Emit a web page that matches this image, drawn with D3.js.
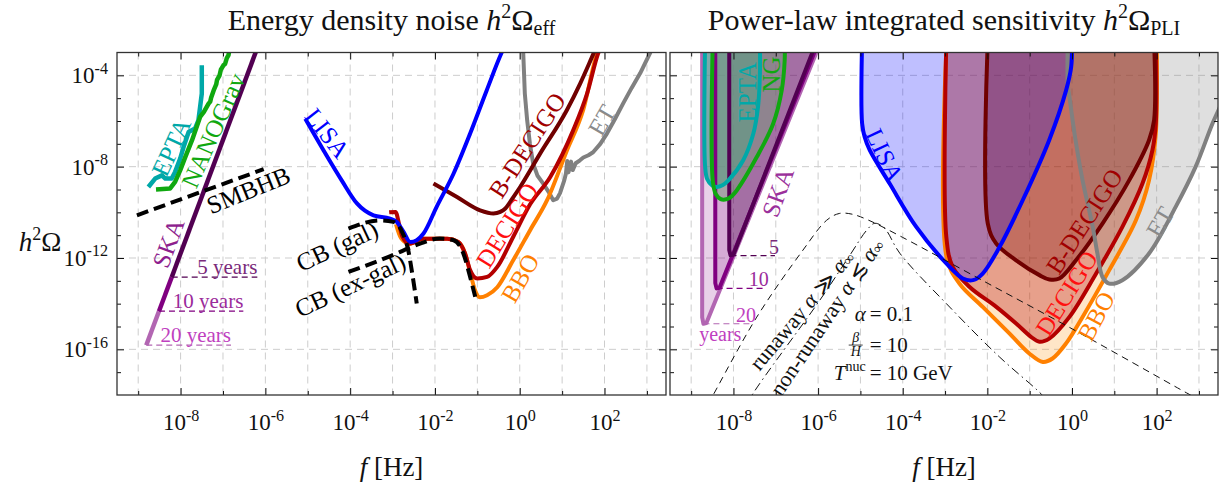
<!DOCTYPE html>
<html>
<head>
<meta charset="utf-8">
<script src="https://cdn.jsdelivr.net/npm/d3@7/dist/d3.min.js"></script>
<style>
  body { margin: 0; background: #fff; }
  svg { font-family: "Liberation Serif", "DejaVu Serif", serif; }
  .grid line { stroke: #cdcdcd; stroke-width: 1; stroke-dasharray: 7,5; }
  .curve { fill: none; stroke-linejoin: round; }
</style>
</head>
<body>
<svg id="chart" width="1219" height="486"></svg>
<script>
// every point is [log10(f / Hz), log10(h^2 Omega)]

// ---- left panel: energy density noise curves
var skaNoise5  = [[-8.21, -12.84], [-6.15, -2.6]];
var skaNoise10 = [[-8.51, -14.33], [-8.21, -12.84]];
var skaNoise20 = [[-8.81, -15.82], [-8.51, -14.33]];
var eptaNoise = [[-8.76, -8.89], [-8.6, -8.52], [-8.44, -8.38], [-8.36, -8.52], [-8.21, -8.52], [-8.13, -8.23],
  [-8.01, -7.65], [-7.93, -7.14], [-7.81, -6.48], [-7.66, -6.33], [-7.58, -5.97], [-7.54, -5.39], [-7.5, -4.8], [-7.5, -3.56]];
var nanogravNoise = [[-8.58, -9.0], [-8.25, -8.96], [-8.13, -8.67], [-8.01, -8.16], [-7.89, -7.58], [-7.73, -6.84],
  [-7.54, -5.82], [-7.45, -5.6], [-7.34, -5.24], [-7.3, -5.15], [-7.28, -4.98], [-7.22, -4.66], [-7.16, -4.4], [-7.14, -4.2],
  [-7.08, -4.0], [-7.05, -3.75], [-6.99, -3.56], [-6.95, -3.5], [-6.91, -3.25], [-6.87, -3.12], [-6.85, -2.9]];
var smbhb = [[-9.03, -10.13], [-6.04, -8.11]];
var lisaNoise = [[-5.06, -5.9], [-4.63, -7.28], [-4.2, -8.6], [-3.84, -9.61], [-3.45, -10.13], [-3.06, -10.27],
  [-2.9, -10.42], [-2.74, -10.86], [-2.58, -11.3], [-2.43, -11.22], [-2.27, -10.93], [-1.96, -9.76], [-1.56, -8.3],
  [-1.17, -6.55], [-0.78, -4.66], [-0.42, -2.98], [-0.35, -2.7]];
var decigoNoise = [[-3.08, -10.0], [-2.93, -9.98], [-2.84, -10.56], [-2.77, -11.05], [-2.6, -11.38], [-2.28, -11.16],
  [-1.71, -11.16], [-1.45, -11.3], [-1.29, -11.8], [-1.17, -12.53], [-1.0, -12.9], [-0.77, -12.83], [-0.53, -12.39],
  [-0.155, -11.08], [0.245, -9.65], [0.72, -8.45], [1.26, -6.41], [1.59, -4.79], [1.85, -3.04], [1.9, -2.8]];
var bboNoise = [[-2.92, -10.52], [-2.8, -11.13], [-2.6, -11.38], [-2.28, -11.16], [-1.71, -11.16], [-1.45, -11.3],
  [-1.29, -11.8], [-1.17, -12.62], [-1.055, -13.41], [-0.94, -13.72], [-0.77, -13.63], [-0.53, -13.28], [-0.155, -12.1],
  [0.245, -10.78], [0.645, -9.47], [1.115, -7.28], [1.495, -5.53], [1.825, -3.04], [1.88, -2.8]];
var bdecigoNoise = [[-2.035, -8.74], [-1.48, -9.33], [-0.935, -9.91], [-0.62, -10.05], [-0.46, -9.98], [-0.34, -9.83],
  [-0.15, -9.33], [0.01, -8.89], [0.48, -7.43], [1.11, -5.53], [1.425, -4.36], [1.74, -3.05], [1.8, -2.8]];
var etNoise = [[0.08, -2.9], [0.12, -4.8], [0.175, -5.97], [0.24, -7.0], [0.315, -7.85], [0.42, -8.4], [0.55, -8.73],
  [0.68, -9.1], [0.79, -9.47], [0.88, -9.4], [0.95, -9.16], [1.05, -8.6], [1.09, -8.3], [1.12, -7.75], [1.15, -8.25],
  [1.21, -7.78], [1.25, -8.15], [1.32, -7.85], [1.42, -7.72], [1.5, -7.6], [1.62, -7.5], [1.73, -7.37], [1.9, -7.0],
  [2.06, -6.54], [2.25, -5.9], [2.44, -5.23], [2.64, -4.55], [2.84, -3.91], [3.08, -3.0], [3.15, -2.8]];
var cbGal = [[-4.04, -10.71], [-3.29, -10.35], [-2.98, -10.42], [-2.74, -11.0], [-2.63, -11.66], [-2.53, -12.75], [-2.43, -13.99]];
var cbExGal = [[-4.04, -12.61], [-2.9, -11.8], [-2.63, -11.58], [-2.35, -11.37], [-1.89, -11.15], [-1.56, -11.22],
  [-1.33, -11.8], [-1.17, -12.83], [-1.05, -13.7]];

// ---- right panel: power-law integrated sensitivity regions
var skaPli20 = [[-8.74, -2.5], [-8.74, -14.6], [-8.71, -14.88], [-8.64, -14.85], [-5.93, -2.5]];
var skaPli10 = [[-8.43, -2.5], [-8.43, -13.1], [-8.4, -13.33], [-8.33, -13.3], [-5.98, -2.5]];
var skaPli5  = [[-8.1, -2.5], [-8.1, -11.65], [-8.07, -11.88], [-8.0, -11.85], [-6.03, -2.5]];
var eptaPli = [[-8.67, -2.5], [-8.67, -8.0], [-8.62, -8.55], [-8.5, -8.83], [-8.4, -8.89], [-8.25, -8.8], [-8.12, -8.6],
  [-7.77, -7.72], [-7.53, -6.55], [-7.42, -5.39], [-7.375, -3.93], [-7.375, -2.5]];
var ngPli = [[-8.49, -2.5], [-8.49, -8.6], [-8.42, -9.2], [-8.3, -9.42], [-8.2, -9.44], [-8.08, -9.35], [-7.92, -9.03],
  [-7.45, -7.58], [-7.06, -6.11], [-6.86, -4.66], [-6.79, -3.34], [-6.79, -2.5]];
var lisaPli = [[-4.96, -2.5], [-4.96, -6.11], [-4.9, -6.7], [-4.78, -7.28], [-4.31, -8.74], [-3.68, -10.64],
  [-2.97, -12.24], [-2.58, -12.9], [-2.34, -12.97], [-2.11, -12.68], [-1.71, -11.51], [-1.165, -9.47], [-0.54, -6.84],
  [-0.14, -4.66], [-0.02, -3.64], [0.0, -2.5]];
var bboPli = [[-2.96, -2.5], [-2.96, -12.0], [-2.66, -13.12], [-2.11, -14.14], [-1.48, -15.3], [-1.01, -16.18],
  [-0.69, -16.55], [-0.46, -16.4], [-0.14, -15.74], [0.25, -14.58], [0.88, -12.53], [1.51, -10.35], [1.82, -8.6],
  [1.98, -6.54], [2.0, -2.5]];
var decigoPli = [[-2.97, -2.5], [-2.97, -11.08], [-2.82, -12.39], [-2.42, -13.27], [-1.79, -14.14], [-1.32, -14.87],
  [-0.97, -15.45], [-0.77, -15.67], [-0.53, -15.52], [-0.06, -14.58], [0.57, -12.68], [1.19, -10.64], [1.665, -8.74],
  [1.9, -7.28], [1.98, -6.11], [1.98, -2.5]];
var bdecigoPli = [[-1.99, -2.5], [-1.99, -10.49], [-1.79, -11.37], [-1.32, -12.1], [-0.77, -12.75], [-0.535, -12.94],
  [-0.3, -12.9], [0.094, -12.1], [0.72, -10.49], [1.35, -8.6], [1.82, -6.84], [1.94, -5.97], [1.94, -2.5]];
var etPli = [[-0.1, -2.5], [-0.1, -4.4], [-0.06, -4.95], [0.08, -6.8], [0.25, -8.6], [0.49, -10.64], [0.6, -11.8],
  [0.72, -12.83], [0.88, -13.12], [1.19, -12.97], [1.82, -11.8], [2.45, -9.76], [2.92, -8.01], [3.32, -6.11],
  [3.7, -4.5], [4.0, -2.5]];
var runaway = [[-8.6, -18.4], [-8.48, -18.0], [-7.45, -14.59], [-6.36, -11.66], [-5.8, -10.35], [-5.5, -10.05],
  [-5.2, -10.08], [-4.8, -10.35], [-4.0, -11.1], [-2.0, -13.1], [0.0, -15.1], [2.7, -17.9], [3.0, -18.2]];
var nonRunaway = [[-7.7, -18.5], [-7.56, -18.0], [-5.96, -13.85], [-5.25, -11.88], [-4.85, -10.78], [-4.66, -10.48],
  [-4.43, -10.7], [-4.07, -11.79], [-2.89, -14.15], [-1.71, -16.34], [-0.82, -17.79], [-0.6, -18.2]];

// ---- text labels: [text, log f, log Omega, rotation, colour]
var labelsLeft = [
  ["EPTA", -8.22, -7.15, -65, "#00a8a8"], ["NANOGrav", -7.23, -6.41, -66, "#10a810"],
  ["SKA", -8.29, -11.35, -70, "#8e1f8e"], ["SMBHB", -6.4, -9.03, -22, "#000"],
  ["LISA", -4.54, -6.54, 52, "#0000ff"], ["CB (gal)", -4.31, -11.48, -25, "#000"],
  ["CB (ex-gal)", -4.0, -13.19, -25, "#000"], ["B-DECIGO", 0.175, -7.06, -57, "#a00000"],
  ["DECIGO", -0.3, -10.56, -58, "#ff1010"], ["BBO", 0.01, -12.88, -60, "#ff8000"], ["ET", 1.94, -5.97, -60, "#8a8a8a"]
];
var labelsRight = [
  ["EPTA", -7.68, -4.74, -90, "#00a8a8"], ["NG", -7.09, -3.96, -90, "#10a810"], ["SKA", -6.95, -9.12, -70, "#9b309b"],
  ["LISA", -4.43, -7.5, 65, "#0000ff"], ["B-DECIGO", 0.29, -10.39, -57, "#a00000"], ["DECIGO", -0.13, -13.54, -58, "#ff1010"],
  ["BBO", 0.57, -14.55, -62, "#ff8000"], ["ET", 2.08, -10.43, -60, "#8a8a8a"]
];
// SKA observation times: [text, start log f, end log f, log Omega, text colour, line colour]
var yearsLeft = [["5 years", -8.21, -6.19, -12.84, "#7a2a7a", "#520052"],
  ["10 years", -8.51, -6.52, -14.33, "#9b2b9b", "#800080"],
  ["20 years", -8.81, -6.81, -15.82, "#c040c0", "#b266b2"]];
var yearsRight = [["5", -8.07, -7.02, -11.9, "#7a2a7a", "#520052"],
  ["10", -8.4, -7.26, -13.33, "#9b2b9b", "#800080"],
  ["20", -8.71, -7.56, -14.88, "#c040c0", "#b266b2"]];
var xDecades = d3.range(-9, 4);
var yDecades = d3.range(-17, -3);

var svg = d3.select("#chart");
var p10 = function(v) { return Math.pow(10, v); };
var y = d3.scaleLog().domain([1e-18, 1e-3]).range([395, 52.5]);
var xL = d3.scaleLog().domain([p10(-9.5), p10(3.45)]).range([117, 666]);
var xR = d3.scaleLog().domain([p10(-9.5), p10(3.45)]).range([670, 1218]);

function gen(x, curve) {
  return d3.line().x(function(d) { return x(p10(d[0])); }).y(function(d) { return y(p10(d[1])); })
    .curve(curve || d3.curveLinear);
}

var defs = svg.append("defs");
[["clipL", xL], ["clipR", xR]].forEach(function(c) {
  defs.append("clipPath").attr("id", c[0]).append("rect")
    .attr("x", c[1].range()[0]).attr("y", y.range()[1])
    .attr("width", c[1].range()[1] - c[1].range()[0]).attr("height", y.range()[0] - y.range()[1]);
});

function grid(g, x) {
  var gg = g.append("g").attr("class", "grid");
  gg.selectAll(".v").data(xDecades).join("line")
    .attr("x1", function(d) { return x(p10(d)); }).attr("x2", function(d) { return x(p10(d)); })
    .attr("y1", y.range()[1]).attr("y2", y.range()[0]);
  gg.selectAll(".h").data([-16, -12, -8, -4]).join("line")
    .attr("x1", x.range()[0]).attr("x2", x.range()[1])
    .attr("y1", function(d) { return y(p10(d)); }).attr("y2", function(d) { return y(p10(d)); });
}

// style an axis group; labelled axes get "10" with a superscript exponent
function tidy(sel, fs, labelled) {
  sel.attr("font-family", null).attr("color", "#111");
  sel.select(".domain").remove();
  if (!labelled) { sel.selectAll(".tick text").remove(); return; }
  sel.selectAll(".tick text").attr("font-size", fs).each(function(d) {
    var e = Math.round(Math.log10(d));
    var t = d3.select(this).text(null);
    t.append("tspan").text("10");
    t.append("tspan").attr("dy", -0.42 * fs).attr("font-size", 0.7 * fs).text(e < 0 ? "-" + (-e) : e);
  });
}

function axes(g, x, labelY) {
  var x0 = x.range()[0], x1 = x.range()[1], y0 = y.range()[0], y1 = y.range()[1];
  var xMaj = xDecades.filter(function(e) { return e % 2 === 0; }).map(p10);
  var xMin = xDecades.filter(function(e) { return e % 2 !== 0; }).map(p10);
  var yMaj = yDecades.filter(function(e) { return e % 4 === 0; }).map(p10);
  var yMin = yDecades.filter(function(e) { return e % 4 !== 0; }).map(p10);
  var fs = 23;
  g.append("g").attr("transform", "translate(0," + y0 + ")")
    .call(d3.axisBottom(x).tickValues(xMaj).tickSize(-7).tickPadding(19)).call(tidy, fs, true);
  g.append("g").attr("transform", "translate(0," + y0 + ")")
    .call(d3.axisBottom(x).tickValues(xMin).tickSize(-4)).call(tidy, fs, false);
  g.append("g").attr("transform", "translate(0," + y1 + ")")
    .call(d3.axisTop(x).tickValues(xMaj).tickSize(-7)).call(tidy, fs, false);
  g.append("g").attr("transform", "translate(0," + y1 + ")")
    .call(d3.axisTop(x).tickValues(xMin).tickSize(-4)).call(tidy, fs, false);
  g.append("g").attr("transform", "translate(" + x0 + ",0)")
    .call(d3.axisLeft(y).tickValues(yMaj).tickSize(-7).tickPadding(9)).call(tidy, fs, labelY);
  g.append("g").attr("transform", "translate(" + x0 + ",0)")
    .call(d3.axisLeft(y).tickValues(yMin).tickSize(-4)).call(tidy, fs, false);
  g.append("g").attr("transform", "translate(" + x1 + ",0)")
    .call(d3.axisRight(y).tickValues(yMaj).tickSize(-7)).call(tidy, fs, false);
  g.append("g").attr("transform", "translate(" + x1 + ",0)")
    .call(d3.axisRight(y).tickValues(yMin).tickSize(-4)).call(tidy, fs, false);
  g.append("rect").attr("x", x0).attr("y", y1).attr("width", x1 - x0).attr("height", y0 - y1)
    .attr("fill", "none").attr("stroke", "#333").attr("stroke-width", 1.3);
  var t = g.append("text").attr("x", (x0 + x1) / 2).attr("y", 476).attr("text-anchor", "middle")
    .attr("font-size", 27).attr("fill", "#111");
  t.append("tspan").attr("font-style", "italic").text("f");
  t.append("tspan").text(" [Hz]");
}

function labels(g, x, list, size) {
  list.forEach(function(d) {
    g.append("text")
      .attr("transform", "translate(" + x(p10(d[1])) + "," + y(p10(d[2])) + ") rotate(" + d[3] + ")")
      .attr("text-anchor", "middle").attr("dominant-baseline", "central")
      .attr("font-size", size).attr("fill", d[4]).text(d[0]);
  });
}

function title(cx, main, sub) {
  var t = svg.append("text").attr("x", cx).attr("y", 30).attr("text-anchor", "middle")
    .attr("font-size", 30).attr("fill", "#111");
  t.append("tspan").text(main + " ");
  t.append("tspan").attr("font-style", "italic").text("h");
  t.append("tspan").attr("dy", -12).attr("font-size", 20).text("2");
  t.append("tspan").attr("dy", 12).text("Ω");
  t.append("tspan").attr("dy", 5).attr("font-size", 20).text(sub);
}

function stroke(g, path, data, color, w, dash) {
  return g.append("path").attr("class", "curve").attr("d", path(data)).attr("stroke", color)
    .attr("stroke-width", w).attr("stroke-dasharray", dash || null);
}

// ================= left panel =================
var gL = svg.append("g");
grid(gL, xL);
var cL = gL.append("g").attr("clip-path", "url(#clipL)");
var lineL = gen(xL), smoothL = gen(xL, d3.curveMonotoneX);
stroke(cL, lineL, skaNoise20, "#b266b2", 4.5);
stroke(cL, lineL, skaNoise10, "#800080", 4.5);
stroke(cL, lineL, skaNoise5, "#520052", 4.5);
stroke(cL, lineL, eptaNoise, "#00a8a8", 4.5);
stroke(cL, lineL, nanogravNoise, "#10a810", 4.5);
stroke(cL, lineL, smbhb, "#000", 4, "12,6");
stroke(cL, lineL, etNoise, "#808080", 4);
stroke(cL, smoothL, bboNoise, "#ff8000", 4);
stroke(cL, smoothL, decigoNoise, "#b40000", 4);
stroke(cL, smoothL, bdecigoNoise, "#700000", 4);
stroke(cL, smoothL, lisaNoise, "#0000ff", 4);
stroke(cL, smoothL, cbGal, "#000", 4, "12,6");
stroke(cL, smoothL, cbExGal, "#000", 4, "12,6");
yearsLeft.forEach(function(d) {
  var yy = y(p10(d[3]));
  cL.append("line").attr("x1", xL(p10(d[1]))).attr("x2", xL(p10(d[2]))).attr("y1", yy).attr("y2", yy)
    .attr("stroke", d[5]).attr("stroke-width", 1.2).attr("stroke-dasharray", "6,4");
  cL.append("text").attr("x", xL(p10(d[2]))).attr("y", yy - 3).attr("text-anchor", "end")
    .attr("font-size", 21).attr("fill", d[4]).text(d[0]);
});
labels(cL, xL, labelsLeft, 25);
axes(gL, xL, true);
title((xL.range()[0] + xL.range()[1]) / 2, "Energy density noise", "eff");

// ================= right panel =================
var gR = svg.append("g");
grid(gR, xR);
var cR = gR.append("g").attr("clip-path", "url(#clipR)");
var lineR = gen(xR), smoothR = gen(xR, d3.curveCatmullRom.alpha(0.5));
function region(data, path, fill, op, color, w) {
  cR.append("path").attr("d", path(data) + "Z").attr("fill", fill).attr("fill-opacity", op).attr("stroke", "none");
  return { data: data, path: path, color: color, w: w };
}
var outlines = [
  region(skaPli20, lineR, "#800080", 0.18, "#b266b2", 4),
  region(skaPli10, lineR, "#800080", 0.18, "#800080", 4),
  region(skaPli5, lineR, "#4b004b", 0.35, "#520052", 4),
  region(eptaPli, smoothR, "#4f9a92", 0.7, "#00a8a8", 4),
  region(ngPli, smoothR, "#7a9a7a", 0.5, "#10a810", 4),
  region(bboPli, smoothR, "#ff8c00", 0.22, "#ff8000", 4),
  region(decigoPli, smoothR, "#b00000", 0.3, "#b40000", 4),
  region(bdecigoPli, smoothR, "#700000", 0.3, "#700000", 4),
  region(lisaPli, smoothR, "#0000ff", 0.25, "#0000ff", 4),
  region(etPli, smoothR, "#808080", 0.25, "#808080", 4)
];
// edges after all fills, LISA last
[0, 1, 2, 3, 4, 5, 6, 7, 9, 8].forEach(function(i) {
  var o = outlines[i];
  stroke(cR, o.path, o.data, o.color, o.w);
});
stroke(cR, smoothR, runaway, "#111", 1, "7,5");
stroke(cR, smoothR, nonRunaway, "#111", 1, "9,4,1.5,4");
yearsRight.forEach(function(d) {
  var yy = y(p10(d[3]));
  cR.append("line").attr("x1", xR(p10(d[1]))).attr("x2", xR(p10(d[2]))).attr("y1", yy).attr("y2", yy)
    .attr("stroke", d[5]).attr("stroke-width", 1.2).attr("stroke-dasharray", "6,4");
  cR.append("text").attr("x", xR(p10(d[2])) + 4).attr("y", yy - 2).attr("text-anchor", "end")
    .attr("font-size", 20).attr("fill", d[4]).text(d[0]);
});
cR.append("text").attr("x", xR(p10(-8.81))).attr("y", y(p10(-15.64))).attr("font-size", 20)
  .attr("fill", "#c040c0").text("years");
labels(cR, xR, labelsRight, 25);

// phase-transition captions
function mathText(fx, fo, rot, parts) {
  var t = cR.append("text").attr("transform", "translate(" + xR(p10(fx)) + "," + y(p10(fo)) + ") rotate(" + rot + ")")
    .attr("text-anchor", "middle").attr("dominant-baseline", "central").attr("font-size", 22).attr("fill", "#111");
  parts.forEach(function(p) {
    var s = t.append("tspan").text(p[0]);
    if (p[1] === "i") s.attr("font-style", "italic");
    if (p[1] === "sub") s.attr("font-size", 15).attr("dy", 4);
  });
}
mathText(-6.4, -14.26, -50, [["runaway "], ["α", "i"], [" ≫ "], ["α", "i"], ["∞", "sub"]]);
mathText(-5.81, -14.57, -56, [["non-runaway "], ["α", "i"], [" ≲ "], ["α", "i"], ["∞", "sub"]]);

var eqX = xR(p10(-4.875));
var eqRows = [-14.77, -16.12, -17.35].map(function(v) { return y(p10(v)); });
cR.append("text").attr("x", eqX).attr("y", eqRows[0]).attr("text-anchor", "end").attr("font-size", 21)
  .attr("font-style", "italic").attr("fill", "#111").text("α");
cR.append("text").attr("x", eqX - 10).attr("y", eqRows[1] - 10).attr("text-anchor", "middle").attr("font-size", 14)
  .attr("font-style", "italic").attr("fill", "#111").text("β");
cR.append("line").attr("x1", eqX - 17).attr("x2", eqX - 3).attr("y1", eqRows[1] - 7).attr("y2", eqRows[1] - 7)
  .attr("stroke", "#111").attr("stroke-width", 0.8);
cR.append("text").attr("x", eqX - 10).attr("y", eqRows[1] + 4).attr("text-anchor", "middle").attr("font-size", 14)
  .attr("font-style", "italic").attr("fill", "#111").text("H");
var tn = cR.append("text").attr("x", eqX).attr("y", eqRows[2]).attr("text-anchor", "end").attr("font-size", 21)
  .attr("fill", "#111");
tn.append("tspan").attr("font-style", "italic").text("T");
tn.append("tspan").attr("dy", -9).attr("font-size", 14).text("nuc");
["= 0.1", "= 10", "= 10 GeV"].forEach(function(s, i) {
  cR.append("text").attr("x", eqX + 4).attr("y", eqRows[i]).attr("font-size", 21).attr("fill", "#111").text(s);
});

axes(gR, xR, false);
title((xR.range()[0] + xR.range()[1]) / 2, "Power-law integrated sensitivity", "PLI");

// y axis label
var yl = svg.append("text").attr("x", 40).attr("y", 251).attr("text-anchor", "middle").attr("font-size", 27)
  .attr("fill", "#111");
yl.append("tspan").attr("font-style", "italic").text("h");
yl.append("tspan").attr("dy", -11).attr("font-size", 18).text("2");
yl.append("tspan").attr("dy", 11).text("Ω");
</script>
</body>
</html>
